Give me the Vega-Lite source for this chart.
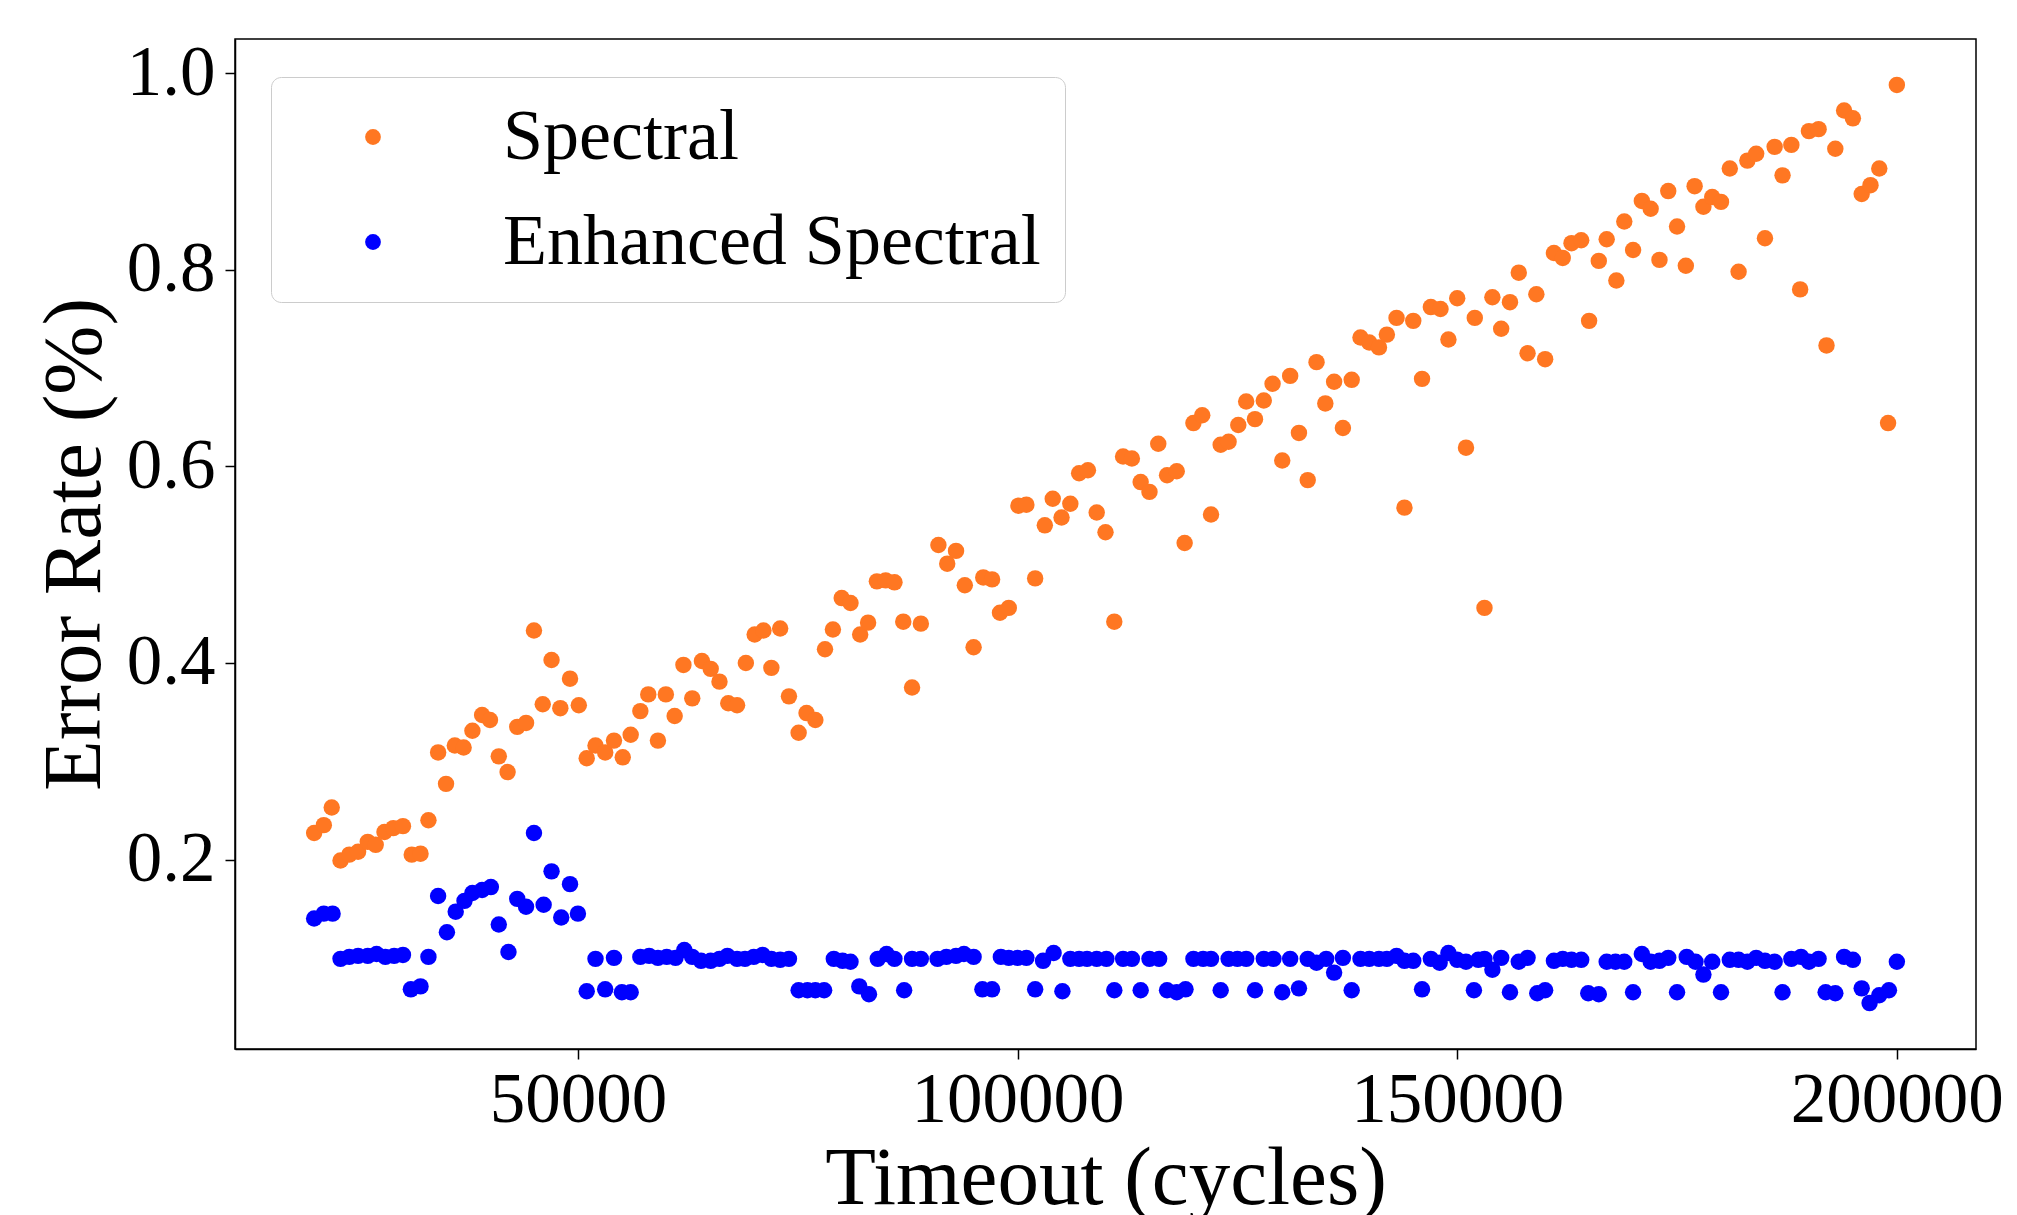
{
  "$schema": "https://vega.github.io/schema/vega-lite/v6.json",
  "width": 1741,
  "height": 1010,
  "autosize": {"type": "none"},
  "padding": {"left": 235, "top": 39, "right": 41, "bottom": 166},
  "background": "white",
  "config": {
    "font": "Liberation Serif",
    "view": {"stroke": "black", "strokeWidth": 1.5},
    "axis": {"grid": false, "domainColor": "black", "domainWidth": 1.5, "tickColor": "black", "tickWidth": 1.5, "tickSize": 10, "labelFont": "Liberation Serif", "titleFont": "Liberation Serif", "labelColor": "black", "titleColor": "black", "titleFontWeight": "normal", "labelFontSize": 71, "titleFontSize": 83, "labelLimit": 0, "titleLimit": 0},
    "legend": {"labelLimit": 0}
  },
  "data": {"values": [
    {"t":20000,"e":0.227,"s":"Spectral"},{"t":21100,"e":0.235,"s":"Spectral"},{"t":22000,"e":0.253,"s":"Spectral"},{"t":23000,"e":0.199,"s":"Spectral"},{"t":24000,"e":0.205,"s":"Spectral"},{"t":25000,"e":0.208,"s":"Spectral"},{"t":26100,"e":0.218,"s":"Spectral"},{"t":27000,"e":0.215,"s":"Spectral"},{"t":28000,"e":0.228,"s":"Spectral"},{"t":29000,"e":0.232,"s":"Spectral"},{"t":30100,"e":0.234,"s":"Spectral"},{"t":31100,"e":0.205,"s":"Spectral"},{"t":32100,"e":0.206,"s":"Spectral"},{"t":33000,"e":0.240,"s":"Spectral"},{"t":34100,"e":0.309,"s":"Spectral"},{"t":35000,"e":0.277,"s":"Spectral"},{"t":36000,"e":0.316,"s":"Spectral"},{"t":37000,"e":0.314,"s":"Spectral"},{"t":38000,"e":0.331,"s":"Spectral"},{"t":39100,"e":0.347,"s":"Spectral"},{"t":40000,"e":0.342,"s":"Spectral"},{"t":41000,"e":0.305,"s":"Spectral"},{"t":42000,"e":0.289,"s":"Spectral"},{"t":43100,"e":0.335,"s":"Spectral"},{"t":44100,"e":0.339,"s":"Spectral"},{"t":45000,"e":0.433,"s":"Spectral"},{"t":46000,"e":0.358,"s":"Spectral"},{"t":47000,"e":0.403,"s":"Spectral"},{"t":48000,"e":0.354,"s":"Spectral"},{"t":49100,"e":0.384,"s":"Spectral"},{"t":50100,"e":0.357,"s":"Spectral"},
    {"t":51000,"e":0.303,"s":"Spectral"},{"t":52000,"e":0.316,"s":"Spectral"},{"t":53100,"e":0.309,"s":"Spectral"},{"t":54100,"e":0.321,"s":"Spectral"},{"t":55100,"e":0.304,"s":"Spectral"},{"t":56000,"e":0.327,"s":"Spectral"},{"t":57100,"e":0.351,"s":"Spectral"},{"t":58000,"e":0.368,"s":"Spectral"},{"t":59100,"e":0.321,"s":"Spectral"},{"t":60000,"e":0.368,"s":"Spectral"},{"t":61000,"e":0.346,"s":"Spectral"},{"t":62000,"e":0.398,"s":"Spectral"},{"t":63000,"e":0.364,"s":"Spectral"},{"t":64100,"e":0.402,"s":"Spectral"},{"t":65100,"e":0.394,"s":"Spectral"},{"t":66100,"e":0.381,"s":"Spectral"},{"t":67100,"e":0.359,"s":"Spectral"},{"t":68100,"e":0.357,"s":"Spectral"},{"t":69100,"e":0.400,"s":"Spectral"},{"t":70100,"e":0.429,"s":"Spectral"},{"t":71100,"e":0.433,"s":"Spectral"},{"t":72000,"e":0.395,"s":"Spectral"},{"t":73000,"e":0.435,"s":"Spectral"},{"t":74000,"e":0.366,"s":"Spectral"},{"t":75100,"e":0.329,"s":"Spectral"},{"t":76000,"e":0.349,"s":"Spectral"},{"t":77000,"e":0.342,"s":"Spectral"},{"t":78100,"e":0.414,"s":"Spectral"},{"t":79000,"e":0.434,"s":"Spectral"},{"t":80000,"e":0.466,"s":"Spectral"},
    {"t":81000,"e":0.461,"s":"Spectral"},{"t":82100,"e":0.429,"s":"Spectral"},{"t":83000,"e":0.441,"s":"Spectral"},{"t":84000,"e":0.483,"s":"Spectral"},{"t":85000,"e":0.484,"s":"Spectral"},{"t":86000,"e":0.482,"s":"Spectral"},{"t":87000,"e":0.442,"s":"Spectral"},{"t":88000,"e":0.375,"s":"Spectral"},{"t":89000,"e":0.440,"s":"Spectral"},{"t":91000,"e":0.520,"s":"Spectral"},{"t":92000,"e":0.501,"s":"Spectral"},{"t":93000,"e":0.514,"s":"Spectral"},{"t":94000,"e":0.479,"s":"Spectral"},{"t":95000,"e":0.416,"s":"Spectral"},{"t":96100,"e":0.487,"s":"Spectral"},{"t":97100,"e":0.485,"s":"Spectral"},{"t":98000,"e":0.451,"s":"Spectral"},{"t":99000,"e":0.456,"s":"Spectral"},{"t":100100,"e":0.560,"s":"Spectral"},{"t":101000,"e":0.561,"s":"Spectral"},{"t":102000,"e":0.486,"s":"Spectral"},{"t":103100,"e":0.540,"s":"Spectral"},{"t":104000,"e":0.567,"s":"Spectral"},{"t":105000,"e":0.548,"s":"Spectral"},{"t":106000,"e":0.562,"s":"Spectral"},{"t":107000,"e":0.593,"s":"Spectral"},{"t":108000,"e":0.596,"s":"Spectral"},{"t":109000,"e":0.553,"s":"Spectral"},{"t":110000,"e":0.533,"s":"Spectral"},
    {"t":111000,"e":0.442,"s":"Spectral"},{"t":112000,"e":0.610,"s":"Spectral"},{"t":113000,"e":0.608,"s":"Spectral"},{"t":114000,"e":0.584,"s":"Spectral"},{"t":115000,"e":0.574,"s":"Spectral"},{"t":116000,"e":0.623,"s":"Spectral"},{"t":117000,"e":0.591,"s":"Spectral"},{"t":118100,"e":0.595,"s":"Spectral"},{"t":119000,"e":0.522,"s":"Spectral"},{"t":120000,"e":0.644,"s":"Spectral"},{"t":121000,"e":0.652,"s":"Spectral"},{"t":122000,"e":0.551,"s":"Spectral"},{"t":123100,"e":0.622,"s":"Spectral"},{"t":124000,"e":0.625,"s":"Spectral"},{"t":125100,"e":0.642,"s":"Spectral"},{"t":126000,"e":0.666,"s":"Spectral"},{"t":127000,"e":0.648,"s":"Spectral"},{"t":128000,"e":0.667,"s":"Spectral"},{"t":129000,"e":0.684,"s":"Spectral"},{"t":130100,"e":0.606,"s":"Spectral"},{"t":131000,"e":0.692,"s":"Spectral"},{"t":132000,"e":0.634,"s":"Spectral"},{"t":133000,"e":0.586,"s":"Spectral"},{"t":134000,"e":0.706,"s":"Spectral"},{"t":135000,"e":0.664,"s":"Spectral"},{"t":136000,"e":0.686,"s":"Spectral"},{"t":137000,"e":0.639,"s":"Spectral"},{"t":138000,"e":0.688,"s":"Spectral"},{"t":139000,"e":0.731,"s":"Spectral"},{"t":140000,"e":0.726,"s":"Spectral"},
    {"t":141100,"e":0.721,"s":"Spectral"},{"t":142000,"e":0.734,"s":"Spectral"},{"t":143100,"e":0.751,"s":"Spectral"},{"t":144000,"e":0.558,"s":"Spectral"},{"t":145000,"e":0.748,"s":"Spectral"},{"t":146000,"e":0.689,"s":"Spectral"},{"t":147000,"e":0.762,"s":"Spectral"},{"t":148100,"e":0.760,"s":"Spectral"},{"t":149000,"e":0.729,"s":"Spectral"},{"t":150000,"e":0.771,"s":"Spectral"},{"t":151000,"e":0.619,"s":"Spectral"},{"t":152000,"e":0.751,"s":"Spectral"},{"t":153100,"e":0.456,"s":"Spectral"},{"t":154000,"e":0.772,"s":"Spectral"},{"t":155000,"e":0.740,"s":"Spectral"},{"t":156000,"e":0.767,"s":"Spectral"},{"t":157000,"e":0.797,"s":"Spectral"},{"t":158000,"e":0.715,"s":"Spectral"},{"t":159000,"e":0.775,"s":"Spectral"},{"t":160000,"e":0.709,"s":"Spectral"},{"t":161000,"e":0.817,"s":"Spectral"},{"t":162000,"e":0.812,"s":"Spectral"},{"t":163000,"e":0.827,"s":"Spectral"},{"t":164100,"e":0.830,"s":"Spectral"},{"t":165000,"e":0.748,"s":"Spectral"},{"t":166100,"e":0.809,"s":"Spectral"},{"t":167000,"e":0.831,"s":"Spectral"},{"t":168100,"e":0.789,"s":"Spectral"},{"t":169000,"e":0.849,"s":"Spectral"},{"t":170000,"e":0.820,"s":"Spectral"},
    {"t":171000,"e":0.870,"s":"Spectral"},{"t":172000,"e":0.862,"s":"Spectral"},{"t":173000,"e":0.810,"s":"Spectral"},{"t":174000,"e":0.880,"s":"Spectral"},{"t":175000,"e":0.844,"s":"Spectral"},{"t":176000,"e":0.804,"s":"Spectral"},{"t":177000,"e":0.885,"s":"Spectral"},{"t":178000,"e":0.864,"s":"Spectral"},{"t":179000,"e":0.874,"s":"Spectral"},{"t":180000,"e":0.869,"s":"Spectral"},{"t":181000,"e":0.903,"s":"Spectral"},{"t":182000,"e":0.798,"s":"Spectral"},{"t":183000,"e":0.911,"s":"Spectral"},{"t":184000,"e":0.918,"s":"Spectral"},{"t":185000,"e":0.832,"s":"Spectral"},{"t":186100,"e":0.925,"s":"Spectral"},{"t":187000,"e":0.896,"s":"Spectral"},{"t":188000,"e":0.927,"s":"Spectral"},{"t":189000,"e":0.780,"s":"Spectral"},{"t":190000,"e":0.941,"s":"Spectral"},{"t":191100,"e":0.943,"s":"Spectral"},{"t":192000,"e":0.723,"s":"Spectral"},{"t":193000,"e":0.923,"s":"Spectral"},{"t":194000,"e":0.962,"s":"Spectral"},{"t":195000,"e":0.954,"s":"Spectral"},{"t":196000,"e":0.877,"s":"Spectral"},{"t":197000,"e":0.886,"s":"Spectral"},{"t":198000,"e":0.903,"s":"Spectral"},{"t":199000,"e":0.644,"s":"Spectral"},{"t":200000,"e":0.988,"s":"Spectral"},
    {"t":20000,"e":0.140,"s":"Enhanced Spectral"},{"t":21100,"e":0.145,"s":"Enhanced Spectral"},{"t":22100,"e":0.145,"s":"Enhanced Spectral"},{"t":23000,"e":0.099,"s":"Enhanced Spectral"},{"t":24000,"e":0.101,"s":"Enhanced Spectral"},{"t":25000,"e":0.102,"s":"Enhanced Spectral"},{"t":26100,"e":0.102,"s":"Enhanced Spectral"},{"t":27100,"e":0.104,"s":"Enhanced Spectral"},{"t":28100,"e":0.101,"s":"Enhanced Spectral"},{"t":29100,"e":0.102,"s":"Enhanced Spectral"},{"t":30100,"e":0.103,"s":"Enhanced Spectral"},{"t":31000,"e":0.068,"s":"Enhanced Spectral"},{"t":32100,"e":0.071,"s":"Enhanced Spectral"},{"t":33000,"e":0.101,"s":"Enhanced Spectral"},{"t":34100,"e":0.163,"s":"Enhanced Spectral"},{"t":35100,"e":0.126,"s":"Enhanced Spectral"},{"t":36100,"e":0.147,"s":"Enhanced Spectral"},{"t":37100,"e":0.158,"s":"Enhanced Spectral"},{"t":38000,"e":0.166,"s":"Enhanced Spectral"},{"t":39100,"e":0.169,"s":"Enhanced Spectral"},{"t":40100,"e":0.172,"s":"Enhanced Spectral"},{"t":41000,"e":0.134,"s":"Enhanced Spectral"},{"t":42100,"e":0.106,"s":"Enhanced Spectral"},{"t":43100,"e":0.160,"s":"Enhanced Spectral"},{"t":44100,"e":0.152,"s":"Enhanced Spectral"},{"t":45000,"e":0.227,"s":"Enhanced Spectral"},{"t":46100,"e":0.154,"s":"Enhanced Spectral"},{"t":47000,"e":0.188,"s":"Enhanced Spectral"},{"t":48100,"e":0.141,"s":"Enhanced Spectral"},{"t":49100,"e":0.175,"s":"Enhanced Spectral"},{"t":50000,"e":0.145,"s":"Enhanced Spectral"},
    {"t":51000,"e":0.066,"s":"Enhanced Spectral"},{"t":52000,"e":0.099,"s":"Enhanced Spectral"},{"t":53100,"e":0.068,"s":"Enhanced Spectral"},{"t":54100,"e":0.100,"s":"Enhanced Spectral"},{"t":55000,"e":0.065,"s":"Enhanced Spectral"},{"t":56000,"e":0.065,"s":"Enhanced Spectral"},{"t":57100,"e":0.101,"s":"Enhanced Spectral"},{"t":58100,"e":0.102,"s":"Enhanced Spectral"},{"t":59100,"e":0.100,"s":"Enhanced Spectral"},{"t":60100,"e":0.101,"s":"Enhanced Spectral"},{"t":61100,"e":0.100,"s":"Enhanced Spectral"},{"t":62100,"e":0.108,"s":"Enhanced Spectral"},{"t":63000,"e":0.101,"s":"Enhanced Spectral"},{"t":64000,"e":0.097,"s":"Enhanced Spectral"},{"t":65100,"e":0.097,"s":"Enhanced Spectral"},{"t":66100,"e":0.099,"s":"Enhanced Spectral"},{"t":67000,"e":0.102,"s":"Enhanced Spectral"},{"t":68100,"e":0.099,"s":"Enhanced Spectral"},{"t":69000,"e":0.099,"s":"Enhanced Spectral"},{"t":70000,"e":0.101,"s":"Enhanced Spectral"},{"t":71000,"e":0.103,"s":"Enhanced Spectral"},{"t":72000,"e":0.099,"s":"Enhanced Spectral"},{"t":73000,"e":0.098,"s":"Enhanced Spectral"},{"t":74000,"e":0.099,"s":"Enhanced Spectral"},{"t":75100,"e":0.067,"s":"Enhanced Spectral"},{"t":76100,"e":0.067,"s":"Enhanced Spectral"},{"t":77000,"e":0.067,"s":"Enhanced Spectral"},{"t":78000,"e":0.067,"s":"Enhanced Spectral"},{"t":79100,"e":0.099,"s":"Enhanced Spectral"},{"t":80100,"e":0.097,"s":"Enhanced Spectral"},
    {"t":81000,"e":0.096,"s":"Enhanced Spectral"},{"t":82000,"e":0.071,"s":"Enhanced Spectral"},{"t":83100,"e":0.063,"s":"Enhanced Spectral"},{"t":84100,"e":0.099,"s":"Enhanced Spectral"},{"t":85100,"e":0.104,"s":"Enhanced Spectral"},{"t":86000,"e":0.099,"s":"Enhanced Spectral"},{"t":87100,"e":0.067,"s":"Enhanced Spectral"},{"t":88000,"e":0.099,"s":"Enhanced Spectral"},{"t":89000,"e":0.099,"s":"Enhanced Spectral"},{"t":90900,"e":0.099,"s":"Enhanced Spectral"},{"t":91900,"e":0.101,"s":"Enhanced Spectral"},{"t":93000,"e":0.102,"s":"Enhanced Spectral"},{"t":93900,"e":0.104,"s":"Enhanced Spectral"},{"t":95000,"e":0.101,"s":"Enhanced Spectral"},{"t":96000,"e":0.068,"s":"Enhanced Spectral"},{"t":97100,"e":0.068,"s":"Enhanced Spectral"},{"t":98100,"e":0.101,"s":"Enhanced Spectral"},{"t":99000,"e":0.100,"s":"Enhanced Spectral"},{"t":100000,"e":0.100,"s":"Enhanced Spectral"},{"t":101000,"e":0.100,"s":"Enhanced Spectral"},{"t":102000,"e":0.068,"s":"Enhanced Spectral"},{"t":102900,"e":0.097,"s":"Enhanced Spectral"},{"t":104100,"e":0.105,"s":"Enhanced Spectral"},{"t":105100,"e":0.066,"s":"Enhanced Spectral"},{"t":106000,"e":0.099,"s":"Enhanced Spectral"},{"t":107000,"e":0.099,"s":"Enhanced Spectral"},{"t":107900,"e":0.099,"s":"Enhanced Spectral"},{"t":109000,"e":0.099,"s":"Enhanced Spectral"},{"t":110100,"e":0.099,"s":"Enhanced Spectral"},
    {"t":111000,"e":0.067,"s":"Enhanced Spectral"},{"t":112000,"e":0.099,"s":"Enhanced Spectral"},{"t":113000,"e":0.099,"s":"Enhanced Spectral"},{"t":114000,"e":0.067,"s":"Enhanced Spectral"},{"t":115000,"e":0.099,"s":"Enhanced Spectral"},{"t":116100,"e":0.099,"s":"Enhanced Spectral"},{"t":117000,"e":0.067,"s":"Enhanced Spectral"},{"t":118100,"e":0.065,"s":"Enhanced Spectral"},{"t":119100,"e":0.068,"s":"Enhanced Spectral"},{"t":120000,"e":0.099,"s":"Enhanced Spectral"},{"t":121100,"e":0.099,"s":"Enhanced Spectral"},{"t":122000,"e":0.099,"s":"Enhanced Spectral"},{"t":123100,"e":0.067,"s":"Enhanced Spectral"},{"t":124000,"e":0.099,"s":"Enhanced Spectral"},{"t":125000,"e":0.099,"s":"Enhanced Spectral"},{"t":126000,"e":0.099,"s":"Enhanced Spectral"},{"t":127000,"e":0.067,"s":"Enhanced Spectral"},{"t":128000,"e":0.099,"s":"Enhanced Spectral"},{"t":129100,"e":0.099,"s":"Enhanced Spectral"},{"t":130100,"e":0.065,"s":"Enhanced Spectral"},{"t":131000,"e":0.099,"s":"Enhanced Spectral"},{"t":132000,"e":0.069,"s":"Enhanced Spectral"},{"t":133000,"e":0.099,"s":"Enhanced Spectral"},{"t":134000,"e":0.095,"s":"Enhanced Spectral"},{"t":135100,"e":0.099,"s":"Enhanced Spectral"},{"t":136000,"e":0.085,"s":"Enhanced Spectral"},{"t":137000,"e":0.100,"s":"Enhanced Spectral"},{"t":138000,"e":0.067,"s":"Enhanced Spectral"},{"t":139000,"e":0.099,"s":"Enhanced Spectral"},{"t":140000,"e":0.099,"s":"Enhanced Spectral"},
    {"t":141100,"e":0.099,"s":"Enhanced Spectral"},{"t":142000,"e":0.099,"s":"Enhanced Spectral"},{"t":143100,"e":0.102,"s":"Enhanced Spectral"},{"t":144000,"e":0.097,"s":"Enhanced Spectral"},{"t":145000,"e":0.097,"s":"Enhanced Spectral"},{"t":146000,"e":0.068,"s":"Enhanced Spectral"},{"t":147000,"e":0.099,"s":"Enhanced Spectral"},{"t":148000,"e":0.095,"s":"Enhanced Spectral"},{"t":149000,"e":0.105,"s":"Enhanced Spectral"},{"t":150000,"e":0.098,"s":"Enhanced Spectral"},{"t":151000,"e":0.096,"s":"Enhanced Spectral"},{"t":151900,"e":0.067,"s":"Enhanced Spectral"},{"t":152400,"e":0.098,"s":"Enhanced Spectral"},{"t":153100,"e":0.099,"s":"Enhanced Spectral"},{"t":154000,"e":0.088,"s":"Enhanced Spectral"},{"t":155000,"e":0.100,"s":"Enhanced Spectral"},{"t":156000,"e":0.065,"s":"Enhanced Spectral"},{"t":157000,"e":0.096,"s":"Enhanced Spectral"},{"t":158000,"e":0.100,"s":"Enhanced Spectral"},{"t":159100,"e":0.064,"s":"Enhanced Spectral"},{"t":160000,"e":0.067,"s":"Enhanced Spectral"},{"t":161000,"e":0.097,"s":"Enhanced Spectral"},{"t":162000,"e":0.099,"s":"Enhanced Spectral"},{"t":163000,"e":0.098,"s":"Enhanced Spectral"},{"t":164100,"e":0.098,"s":"Enhanced Spectral"},{"t":164900,"e":0.064,"s":"Enhanced Spectral"},{"t":166100,"e":0.063,"s":"Enhanced Spectral"},{"t":167000,"e":0.096,"s":"Enhanced Spectral"},{"t":168000,"e":0.096,"s":"Enhanced Spectral"},{"t":169000,"e":0.096,"s":"Enhanced Spectral"},{"t":170000,"e":0.065,"s":"Enhanced Spectral"},
    {"t":171000,"e":0.104,"s":"Enhanced Spectral"},{"t":172000,"e":0.096,"s":"Enhanced Spectral"},{"t":173000,"e":0.097,"s":"Enhanced Spectral"},{"t":174000,"e":0.100,"s":"Enhanced Spectral"},{"t":175000,"e":0.065,"s":"Enhanced Spectral"},{"t":176100,"e":0.101,"s":"Enhanced Spectral"},{"t":177100,"e":0.096,"s":"Enhanced Spectral"},{"t":178000,"e":0.083,"s":"Enhanced Spectral"},{"t":179000,"e":0.096,"s":"Enhanced Spectral"},{"t":180000,"e":0.065,"s":"Enhanced Spectral"},{"t":181000,"e":0.098,"s":"Enhanced Spectral"},{"t":182000,"e":0.098,"s":"Enhanced Spectral"},{"t":183000,"e":0.096,"s":"Enhanced Spectral"},{"t":184000,"e":0.100,"s":"Enhanced Spectral"},{"t":185000,"e":0.097,"s":"Enhanced Spectral"},{"t":186100,"e":0.096,"s":"Enhanced Spectral"},{"t":187000,"e":0.065,"s":"Enhanced Spectral"},{"t":188000,"e":0.099,"s":"Enhanced Spectral"},{"t":189100,"e":0.101,"s":"Enhanced Spectral"},{"t":190000,"e":0.096,"s":"Enhanced Spectral"},{"t":191100,"e":0.099,"s":"Enhanced Spectral"},{"t":191900,"e":0.065,"s":"Enhanced Spectral"},{"t":193000,"e":0.064,"s":"Enhanced Spectral"},{"t":194000,"e":0.101,"s":"Enhanced Spectral"},{"t":195000,"e":0.098,"s":"Enhanced Spectral"},{"t":196000,"e":0.069,"s":"Enhanced Spectral"},{"t":196900,"e":0.054,"s":"Enhanced Spectral"},{"t":198000,"e":0.062,"s":"Enhanced Spectral"},{"t":199100,"e":0.067,"s":"Enhanced Spectral"},{"t":200000,"e":0.096,"s":"Enhanced Spectral"}
  ]},
  "mark": {"type": "circle", "size": 270, "opacity": 1},
  "encoding": {
    "x": {"field": "t", "type": "quantitative", "title": "Timeout (cycles)",
      "scale": {"domain": [11000, 209000], "nice": false, "zero": false},
      "axis": {"values": [50000, 100000, 150000, 200000], "format": "d", "labelPadding": 6, "titlePadding": 2, "labelFlush": false}},
    "y": {"field": "e", "type": "quantitative", "title": "Error Rate (%)",
      "scale": {"domain": [0.0073, 1.0347], "nice": false, "zero": false},
      "axis": {"values": [0.2, 0.4, 0.6, 0.8, 1.0], "format": ".1f", "labelPadding": 10, "titlePadding": 10, "labelFlush": false}},
    "color": {"field": "s", "type": "nominal",
      "scale": {"domain": ["Spectral", "Enhanced Spectral"], "range": ["#ff7722", "#0000ff"]},
      "legend": {"title": null, "orient": "none", "legendX": 36, "legendY": 38,
        "padding": 24, "rowPadding": 33, "symbolOffset": 42, "labelOffset": 94, "labelLimit": 0,
        "symbolType": "circle", "symbolSize": 250, "symbolStrokeWidth": 0,
        "labelFont": "Liberation Serif", "labelFontSize": 72, "labelColor": "black",
        "strokeColor": "#cccccc", "fillColor": "white", "cornerRadius": 10}}
  }
}
